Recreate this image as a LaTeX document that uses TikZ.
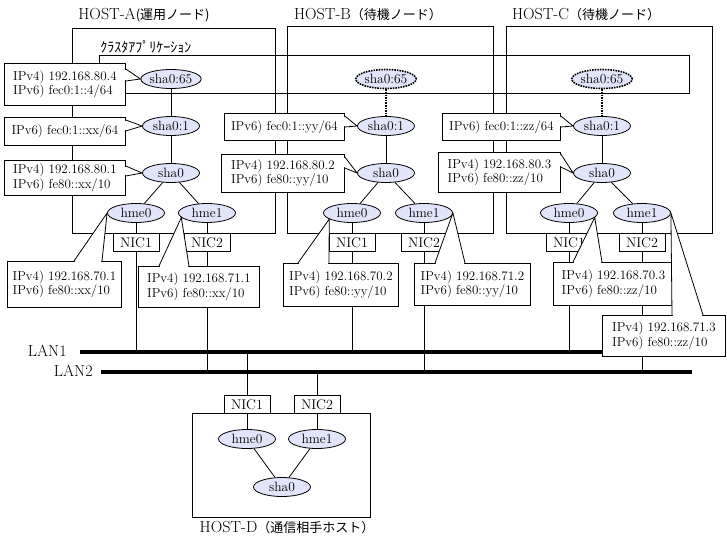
\documentclass[tikz,border=0pt]{standalone}
\usepackage{fontspec}
\newfontfamily\cjk{Noto Sans CJK JP}
\usetikzlibrary{shapes.geometric}
\definecolor{ifcol}{RGB}{226,228,250}
\newcommand\jtext[1]{{\cjk\fontsize{13}{15}\selectfont #1}}
\newcommand\callptr[3]{%
  \fill[white] (#1) -- (#2) -- (#3) -- cycle;
  \draw[white,line width=1.2pt,shorten <=0.6pt,shorten >=0.6pt] (#1) -- (#3);
  \draw (#1) -- (#2) -- (#3);%
}

\begin{document}
\begin{tikzpicture}[x=1pt,y=-1pt,line width=0.8pt,
  ifc/.style={ellipse,draw,fill=ifcol,minimum width=57,minimum height=19,inner sep=0,font=\fontsize{13.5}{15}\selectfont},
  standby/.style={densely dotted,line width=1.6pt},
  nic/.style={rectangle,draw,fill=white,minimum width=46,minimum height=18,inner sep=0,anchor=north,font=\fontsize{14}{16}\selectfont},
  lbl/.style={rectangle,draw,fill=white,anchor=north west,inner sep=0,align=left,font=\fontsize{13}{14.5}\selectfont},
  lan/.style={line width=4pt},
  title/.style={inner sep=0,font=\fontsize{16}{18}\selectfont}]
\useasboundingbox (0,0) rectangle (727,546);
% hosts and cluster application
\draw (72,28) rectangle (275,233);
\draw (287,26) rectangle (493,233);
\draw (506,26) rectangle (712,233);
\draw (192,413) rectangle (370,517);
\draw (99,55) rectangle (689,93);
\node[title] (tA) at (144,15) {HOST-A\jtext{(運用ノード)}};
\node[title] (tB) at (368,15) {HOST-B\jtext{（待機ノード）}};
\node[title] (tC) at (586,15) {HOST-C\jtext{（待機ノード）}};
\node[title] (tD) at (287,528) {HOST-D\jtext{（通信相手ホスト）}};
\node[inner sep=0,anchor=west,font=\cjk\fontsize{14}{16}\selectfont] (app) at (100,47) {ｸﾗｽﾀｱﾌﾟﾘｹｰｼｮﾝ};
% LANs
\coordinate (lan1) at (80,352);
\coordinate (lan1e) at (660,352);
\coordinate (lan2) at (101,372);
\coordinate (lan2e) at (692,372);
\draw[lan] (lan1) -- (lan1e);
\draw[lan] (lan2) -- (lan2e);
\node[title,anchor=east] (nl1) at (67,351) {LAN1};
\node[title,anchor=east] (nl2) at (93,371) {LAN2};
% interfaces
\node[ifc] (sA65) at (171,79) {sha0:65};
\node[ifc,standby] (sB65) at (386,79) {sha0:65};
\node[ifc,standby] (sC65) at (602,79) {sha0:65};
\foreach \h/\s/\a/\b in {A/171/136/207,B/386/352/424,C/602/569/642} {
  \node[ifc] (s\h1) at (\s,126) {sha0:1};
  \node[ifc] (s\h0) at (\s,173) {sha0};
  \node[ifc] (h\h0) at (\a,213) {hme0};
  \node[ifc] (h\h1) at (\b,213) {hme1};
  \node[nic] (n\h1) at (\a,233) {NIC1};
  \node[nic] (n\h2) at (\b,233) {NIC2};
  \draw (s\h1) -- (s\h0);
  \draw (s\h0) -- (h\h0);
  \draw (s\h0) -- (h\h1);
  \draw (h\h0) -- (n\h1);
  \draw (h\h1) -- (n\h2);
  \draw (n\h1) -- (n\h1 |- lan1);
  \draw (n\h2) -- (n\h2 |- lan2);
}
\draw (sA65) -- (sA1);
\draw[standby] (sB65) -- (sB1);
\draw[standby] (sC65) -- (sC1);
% HOST-D
\node[nic] (nD1) at (247,395) {NIC1};
\node[nic] (nD2) at (317,395) {NIC2};
\node[ifc] (hD0) at (247,439) {hme0};
\node[ifc] (hD1) at (317,439) {hme1};
\node[ifc] (sD0) at (282,487) {sha0};
\draw (nD1) -- (nD1 |- lan1);
\draw (nD2) -- (nD2 |- lan2);
\draw (nD1) -- (hD0);
\draw (nD2) -- (hD1);
\draw (hD0) -- (sD0);
\draw (hD1) -- (sD0);
% addresses
\node[lbl,minimum width=121,minimum height=42] (lA65) at (4,63) {IPv4) 192.168.80.4\\IPv6) fec0:1::4/64};
\node[lbl,minimum width=121,minimum height=28] (lA1) at (4,117) {IPv6) fec0:1::xx/64};
\node[lbl,minimum width=121,minimum height=35] (lA0) at (4,160) {IPv4) 192.168.80.1\\IPv6) fe80::xx/10};
\node[lbl,minimum width=114,minimum height=46] (lAh0) at (7,261) {IPv4) 192.168.70.1\\IPv6) fe80::xx/10};
\node[lbl,minimum width=121,minimum height=41] (lAh1) at (138,266) {IPv4) 192.168.71.1\\IPv6) fe80::xx/10};
\node[lbl,minimum width=120,minimum height=27] (lB1) at (224,113) {IPv6) fec0:1::yy/64};
\node[lbl,minimum width=123,minimum height=38] (lB0) at (221,154) {IPv4) 192.168.80.2\\IPv6) fe80::yy/10};
\node[lbl,minimum width=115,minimum height=43] (lBh0) at (283,263) {IPv4) 192.168.70.2\\IPv6) fe80::yy/10};
\node[lbl,minimum width=116,minimum height=42] (lBh1) at (414,263) {IPv4) 192.168.71.2\\IPv6) fe80::yy/10};
\node[lbl,minimum width=118,minimum height=27] (lC1) at (442,113) {IPv6) fec0:1::zz/64};
\node[lbl,minimum width=122,minimum height=40] (lC0) at (438,152) {IPv4) 192.168.80.3\\IPv6) fe80::zz/10};
\node[lbl,minimum width=120,minimum height=43] (lCh0) at (553,262) {IPv4) 192.168.70.3\\IPv6) fe80::zz/10};
\node[lbl,minimum width=123,minimum height=41] (lCh1) at (602,315) {IPv4) 192.168.71.3\\IPv6) fe80::zz/10};
\callptr{[yshift=-6]lA65.north east}{sA65.west}{[yshift=-18]lA65.north east}
\callptr{[yshift=-3]lA1.north east}{sA1.west}{[yshift=-14]lA1.north east}
\callptr{[yshift=-6]lA0.north east}{sA0.west}{[yshift=-16]lA0.north east}
\callptr{[yshift=-3]lB1.north east}{sB1.west}{[yshift=-14]lB1.north east}
\callptr{[yshift=-3]lB0.north east}{sB0.west}{[yshift=-14]lB0.north east}
\callptr{[yshift=-3]lC1.north east}{sC1.west}{[yshift=-14]lC1.north east}
\callptr{[yshift=-2]lC0.north east}{sC0.west}{[yshift=-15]lC0.north east}
\callptr{[xshift=67]lAh0.north west}{hA0.west}{[xshift=95]lAh0.north west}
\callptr{[xshift=21]lAh1.north west}{hA1.190}{[xshift=51]lAh1.north west}
\callptr{[xshift=15]lBh0.north west}{hB0.195}{[xshift=46]lBh0.north west}
\callptr{[xshift=21]lBh1.north west}{hB1.east}{[xshift=51]lBh1.north west}
\callptr{[xshift=20]lCh0.north west}{hC0.350}{[xshift=49]lCh0.north west}
\callptr{[xshift=70]lCh1.north west}{hC1.east}{[xshift=101]lCh1.north west}
\end{tikzpicture}
\end{document}
